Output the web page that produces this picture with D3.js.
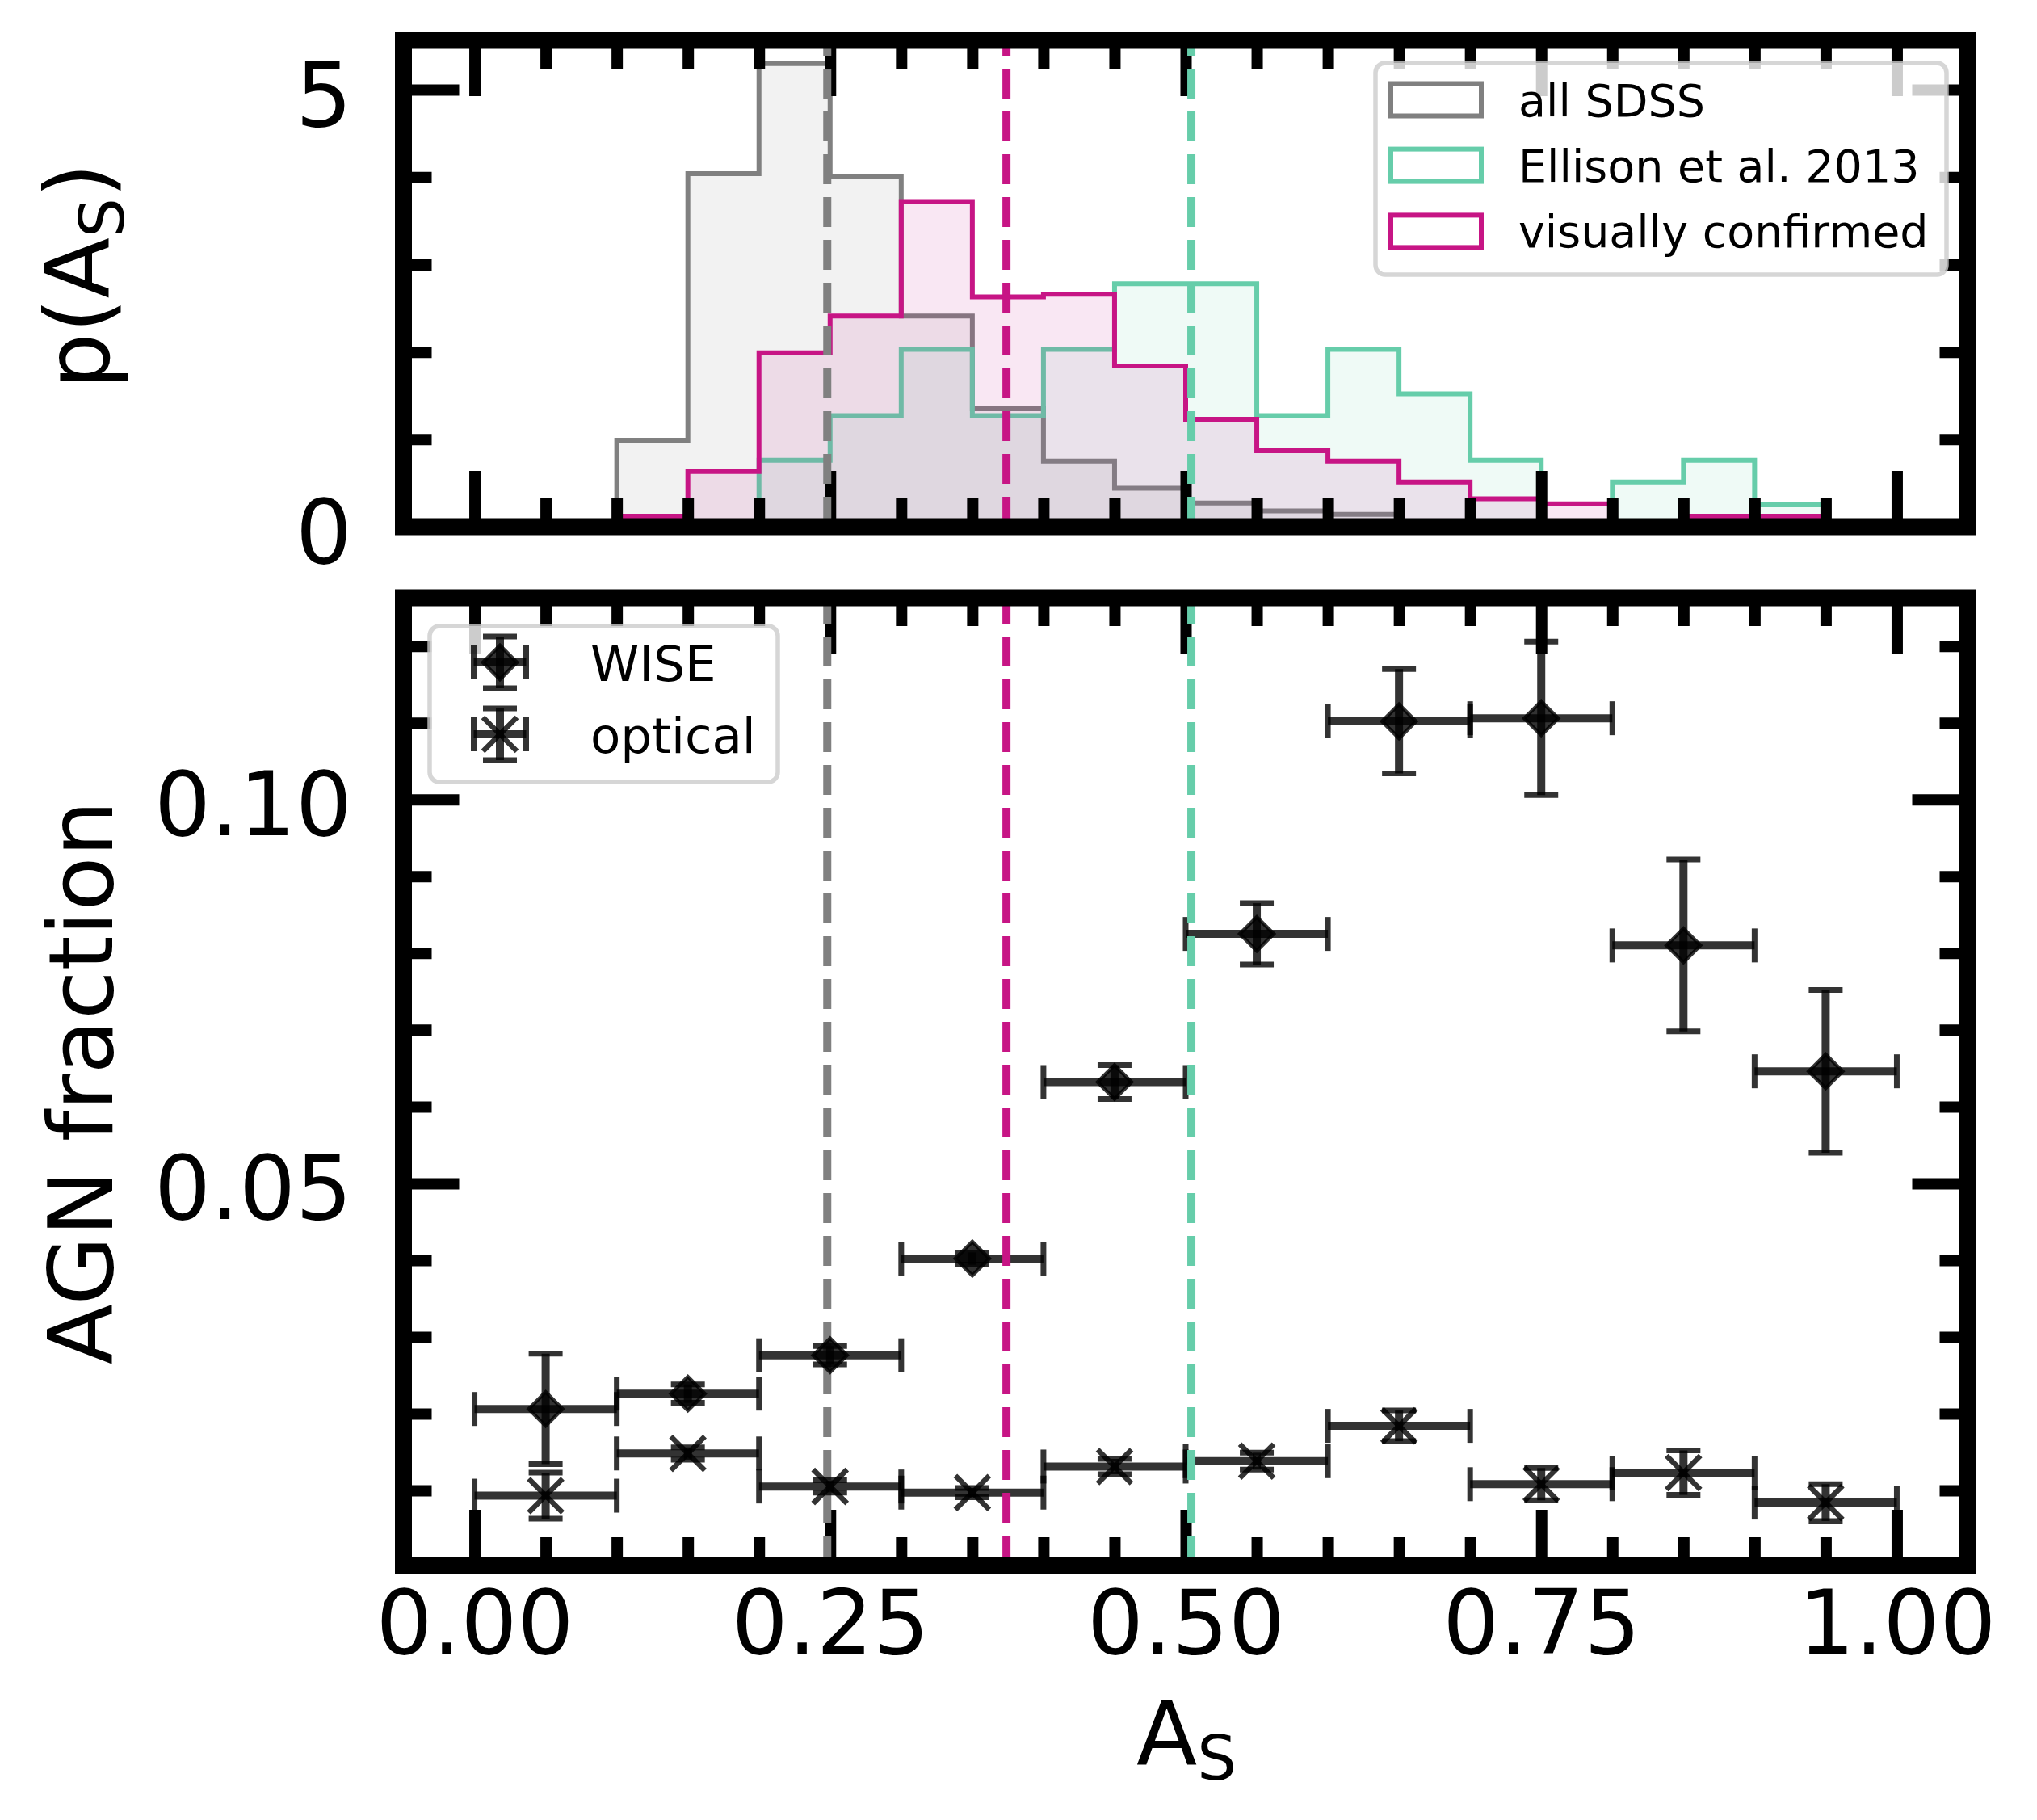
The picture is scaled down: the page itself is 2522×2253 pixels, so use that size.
<!DOCTYPE html>
<html>
<head>
<meta charset="utf-8">
<script src="https://cdn.jsdelivr.net/npm/d3@7"></script>
<style>
  html, body { margin: 0; padding: 0; background: #ffffff; }
  svg { display: block; }
</style>
</head>
<body>
<svg id="chart" width="2522" height="2253"></svg>
<script>
// ---------------- DATA ----------------
const binEdges = [0.00, 0.05, 0.10, 0.15, 0.20, 0.25, 0.30, 0.35, 0.40, 0.45, 0.50,
                  0.55, 0.60, 0.65, 0.70, 0.75, 0.80, 0.85, 0.90, 0.95, 1.00];
const densityAllSDSS = [0, 0, 0.99, 4.04, 5.30, 4.01, 2.41, 1.35, 0.75, 0.44,
                        0.27, 0.18, 0.14, 0.05, 0.03, 0.02, 0.01, 0.01, 0, 0];
const densityEllison = [0, 0, 0, 0, 0.76, 1.27, 2.03, 1.27, 2.03, 2.78,
                        2.78, 1.27, 2.03, 1.52, 0.76, 0, 0.51, 0.76, 0.25, 0];
const densityVisual  = [0, 0, 0.12, 0.63, 1.99, 2.41, 3.72, 2.63, 2.66, 1.84,
                        1.23, 0.87, 0.75, 0.51, 0.32, 0.26, 0, 0.12, 0.12, 0];
const medianAllSDSS = 0.248;
const medianVisual  = 0.374;
const medianEllison = 0.504;
const histLabels = ["all SDSS", "Ellison et al. 2013", "visually confirmed"];

const agnBinCenters    = [0.05, 0.15, 0.25, 0.35, 0.45, 0.55, 0.65, 0.75, 0.85, 0.95];
const agnBinHalfWidths = [0.05, 0.05, 0.05, 0.05, 0.05, 0.05, 0.05, 0.05, 0.05, 0.05];
const wiseFraction   = [0.0206, 0.0226, 0.0276, 0.0402, 0.0632, 0.0825, 0.1102, 0.1106, 0.0810, 0.0646];
const wiseError      = [0.0072, 0.0012, 0.0012, 0.0008, 0.0022, 0.0040, 0.0068, 0.0100, 0.0112, 0.0106];
const opticalFraction = [0.0093, 0.0148, 0.0105, 0.0097, 0.0131, 0.0138, 0.0184, 0.0108, 0.0123, 0.0084];
const opticalError    = [0.0030, 0.0008, 0.0008, 0.0006, 0.0010, 0.0011, 0.0020, 0.0021, 0.0029, 0.0024];
const agnLabels = ["WISE", "optical"];

const xMajorTicks  = [0, 0.25, 0.5, 0.75, 1.0];
const xMajorLabels = ["0.00", "0.25", "0.50", "0.75", "1.00"];
const xMinorTicks  = [0.05, 0.10, 0.15, 0.20, 0.30, 0.35, 0.40, 0.45, 0.55, 0.60, 0.65, 0.70, 0.80, 0.85, 0.90, 0.95];
const histYMajorTicks  = [0, 5];
const histYMajorLabels = ["0", "5"];
const histYMinorTicks  = [1, 2, 3, 4];
const agnYMajorTicks  = [0.05, 0.10];
const agnYMajorLabels = ["0.05", "0.10"];
const agnYMinorTicks  = [0.01, 0.02, 0.03, 0.04, 0.06, 0.07, 0.08, 0.09, 0.11, 0.12];

// ---------------- LAYOUT / STYLE ----------------
const FONT = "'DejaVu Sans', 'Liberation Sans', sans-serif";
const colAll = "#808080", colEll = "#66CDAA", colVis = "#C71585";
const L = 499.5, R = 2436.5;
const top1 = 50, bot1 = 652;
const top2 = 740, bot2 = 1938;

const svg = d3.select("#chart");
svg.append("rect").attr("width", 2522).attr("height", 2253).attr("fill", "#fff");

const x  = d3.scaleLinear().domain([-0.05, 1.05]).range([L, R]);
const y1 = d3.scaleLinear().domain([0, 5.565]).range([bot1, top1]);
const y2 = d3.scaleLinear().domain([0.0002, 0.1263]).range([bot2, top2]);

function styleAxis(sel) {
  sel.select(".domain").remove();
  sel.attr("font-family", FONT).attr("font-size", 110);
  sel.selectAll(".tick line").attr("stroke", "#000").attr("stroke-width", 14);
  sel.selectAll(".tick text").attr("fill", "#000");
}

function drawTicks(g, yScale, yTop, yBot, yMaj, yMajLab, yMin, showXLabels) {
  g.append("g").attr("transform", `translate(0,${yBot})`)
    .call(d3.axisBottom(x).tickValues(xMajorTicks).tickSizeInner(-69).tickSizeOuter(0)
      .tickPadding(31).tickFormat((d, i) => showXLabels ? xMajorLabels[i] : ""))
    .call(styleAxis);
  g.append("g").attr("transform", `translate(0,${yBot})`)
    .call(d3.axisBottom(x).tickValues(xMinorTicks).tickSizeInner(-35).tickSizeOuter(0).tickFormat(""))
    .call(styleAxis);
  g.append("g").attr("transform", `translate(0,${yTop})`)
    .call(d3.axisTop(x).tickValues(xMajorTicks).tickSizeInner(-69).tickSizeOuter(0).tickFormat(""))
    .call(styleAxis);
  g.append("g").attr("transform", `translate(0,${yTop})`)
    .call(d3.axisTop(x).tickValues(xMinorTicks).tickSizeInner(-35).tickSizeOuter(0).tickFormat(""))
    .call(styleAxis);
  const la = g.append("g").attr("transform", `translate(${L},0)`)
    .call(d3.axisLeft(yScale).tickValues(yMaj).tickSizeInner(-69).tickSizeOuter(0)
      .tickPadding(63.5).tickFormat((d, i) => yMajLab[i]))
    .call(styleAxis);
  la.selectAll(".tick text").attr("dy", "0.40em");
  g.append("g").attr("transform", `translate(${L},0)`)
    .call(d3.axisLeft(yScale).tickValues(yMin).tickSizeInner(-35).tickSizeOuter(0).tickFormat(""))
    .call(styleAxis);
  g.append("g").attr("transform", `translate(${R},0)`)
    .call(d3.axisRight(yScale).tickValues(yMaj).tickSizeInner(-69).tickSizeOuter(0).tickFormat(""))
    .call(styleAxis);
  g.append("g").attr("transform", `translate(${R},0)`)
    .call(d3.axisRight(yScale).tickValues(yMin).tickSizeInner(-35).tickSizeOuter(0).tickFormat(""))
    .call(styleAxis);
}

function vline(g, xv, yTop, yBot, color) {
  g.append("line")
    .attr("x1", x(xv)).attr("x2", x(xv))
    .attr("y1", yBot).attr("y2", yTop)
    .attr("stroke", color).attr("stroke-width", 10)
    .attr("stroke-dasharray", "37,16");
}

// ---------------- TOP PANEL: histograms ----------------
const gTop = svg.append("g");
function stepPoints(vals) {
  const pts = [[binEdges[0], 0]];
  vals.forEach((v, i) => { pts.push([binEdges[i], v]); pts.push([binEdges[i + 1], v]); });
  pts.push([binEdges[binEdges.length - 1], 0]);
  return pts;
}
const histLine = d3.line().x(d => x(d[0])).y(d => y1(d[1]));
const histSeries = [
  { vals: densityAllSDSS, color: colAll },
  { vals: densityEllison, color: colEll },
  { vals: densityVisual,  color: colVis }
];
histSeries.forEach(s => {
  const p = histLine(stepPoints(s.vals));
  gTop.append("path").attr("d", p + "Z").attr("fill", s.color).attr("fill-opacity", 0.1).attr("stroke", "none");
  gTop.append("path").attr("d", p).attr("fill", "none").attr("stroke", s.color)
    .attr("stroke-width", 6).attr("stroke-linejoin", "miter");
});
drawTicks(gTop, y1, top1, bot1, histYMajorTicks, histYMajorLabels, histYMinorTicks, false);
vline(gTop, medianAllSDSS, top1, bot1, colAll);
vline(gTop, medianVisual, top1, bot1, colVis);
vline(gTop, medianEllison, top1, bot1, colEll);

// legend (top)
const lg1 = gTop.append("g");
lg1.append("rect").attr("x", 1703).attr("y", 78).attr("width", 707).attr("height", 262)
  .attr("rx", 12).attr("fill", "#fff").attr("fill-opacity", 0.8)
  .attr("stroke", "#cccccc").attr("stroke-opacity", 0.8).attr("stroke-width", 5.5);
const legRows1 = [123.5, 204.6, 286.4];
histSeries.forEach((s, i) => {
  lg1.append("rect").attr("x", 1722).attr("y", legRows1[i] - 20).attr("width", 112).attr("height", 40)
    .attr("fill", "none").attr("stroke", s.color).attr("stroke-width", 6);
  lg1.append("text").attr("x", 1880).attr("y", legRows1[i] + 20)
    .attr("font-family", FONT).attr("font-size", 55.5).attr("fill", "#000").text(histLabels[i]);
});
gTop.append("rect").attr("x", L).attr("y", top1).attr("width", R - L).attr("height", bot1 - top1)
  .attr("fill", "none").attr("stroke", "#000").attr("stroke-width", 21);

// ---------------- BOTTOM PANEL: AGN fraction ----------------
const gBot = svg.append("g");
drawTicks(gBot, y2, top2, bot2, agnYMajorTicks, agnYMajorLabels, agnYMinorTicks, true);
vline(gBot, medianAllSDSS, top2, bot2, colAll);

const diamondSym = d3.symbol().type(d3.symbolSquare).size(882);
const crossType = { draw(ctx, size) { const r = Math.sqrt(size) / 2; ctx.moveTo(-r, -r); ctx.lineTo(r, r); ctx.moveTo(-r, r); ctx.lineTo(r, -r); } };
const crossSym = d3.symbol().type(crossType).size(1764);

function drawMarker(g, cx, cy, kind) {
  if (kind === "D") {
    g.append("path").attr("d", diamondSym()).attr("transform", `translate(${cx},${cy}) rotate(45)`)
      .attr("fill", "#000").attr("fill-opacity", 0.8)
      .attr("stroke", "#000").attr("stroke-opacity", 0.8).attr("stroke-width", 4.5);
  } else {
    g.append("path").attr("d", crossSym()).attr("transform", `translate(${cx},${cy})`)
      .attr("fill", "none").attr("stroke", "#000").attr("stroke-opacity", 0.8).attr("stroke-width", 6.5);
  }
}

function drawErrorbars(g, xs, ys, xe, ye, kind) {
  const data = xs.map((xv, i) => ({ x: xv, y: ys[i], xe: xe[i], ye: ye[i] }));
  const bars = g.append("g").attr("stroke", "#000").attr("stroke-opacity", 0.8);
  bars.selectAll(null).data(data).join("line")
    .attr("x1", d => x(d.x - d.xe)).attr("x2", d => x(d.x + d.xe))
    .attr("y1", d => y2(d.y)).attr("y2", d => y2(d.y)).attr("stroke-width", 10);
  bars.selectAll(null).data(data).join("line")
    .attr("x1", d => x(d.x)).attr("x2", d => x(d.x))
    .attr("y1", d => y2(d.y - d.ye)).attr("y2", d => y2(d.y + d.ye)).attr("stroke-width", 10);
  const caps = g.append("g").attr("stroke", "#000").attr("stroke-opacity", 0.8).attr("stroke-width", 7);
  [-1, 1].forEach(sg => {
    caps.selectAll(null).data(data).join("line")
      .attr("x1", d => x(d.x + sg * d.xe)).attr("x2", d => x(d.x + sg * d.xe))
      .attr("y1", d => y2(d.y) - 21).attr("y2", d => y2(d.y) + 21);
    caps.selectAll(null).data(data).join("line")
      .attr("x1", d => x(d.x) - 21).attr("x2", d => x(d.x) + 21)
      .attr("y1", d => y2(d.y + sg * d.ye)).attr("y2", d => y2(d.y + sg * d.ye));
  });
  data.forEach(d => drawMarker(g, x(d.x), y2(d.y), kind));
}
drawErrorbars(gBot, agnBinCenters, wiseFraction, agnBinHalfWidths, wiseError, "D");
drawErrorbars(gBot, agnBinCenters, opticalFraction, agnBinHalfWidths, opticalError, "x");
vline(gBot, medianVisual, top2, bot2, colVis);
vline(gBot, medianEllison, top2, bot2, colEll);

// legend (bottom)
const lg2 = gBot.append("g");
lg2.append("rect").attr("x", 532).attr("y", 775).attr("width", 431).attr("height", 193)
  .attr("rx", 12).attr("fill", "#fff").attr("fill-opacity", 0.8)
  .attr("stroke", "#cccccc").attr("stroke-opacity", 0.8).attr("stroke-width", 5.5);
const legRows2 = [820, 909];
["D", "x"].forEach((kind, i) => {
  const cy = legRows2[i], cx = 619;
  const hg = lg2.append("g").attr("stroke", "#000").attr("stroke-opacity", 0.8);
  hg.append("line").attr("x1", cx - 32.5).attr("x2", cx + 32.5).attr("y1", cy).attr("y2", cy).attr("stroke-width", 10);
  hg.append("line").attr("x1", cx).attr("x2", cx).attr("y1", cy - 32).attr("y2", cy + 32).attr("stroke-width", 10);
  [-1, 1].forEach(sg => {
    hg.append("line").attr("x1", cx + sg * 32.5).attr("x2", cx + sg * 32.5).attr("y1", cy - 21).attr("y2", cy + 21).attr("stroke-width", 7);
    hg.append("line").attr("x1", cx - 21).attr("x2", cx + 21).attr("y1", cy + sg * 32).attr("y2", cy + sg * 32).attr("stroke-width", 7);
  });
  drawMarker(lg2, cx, cy, kind);
  lg2.append("text").attr("x", 731).attr("y", cy + 23)
    .attr("font-family", FONT).attr("font-size", 61).attr("fill", "#000").text(agnLabels[i]);
});
gBot.append("rect").attr("x", L).attr("y", top2).attr("width", R - L).attr("height", bot2 - top2)
  .attr("fill", "none").attr("stroke", "#000").attr("stroke-width", 21);

// ---------------- AXIS LABELS ----------------
const xl = svg.append("text").attr("x", 1469).attr("y", 2185).attr("text-anchor", "middle")
  .attr("font-family", FONT).attr("font-size", 110).attr("fill", "#000");
xl.append("tspan").text("A");
xl.append("tspan").attr("font-size", 77).attr("dy", 18).text("S");

const yl1 = svg.append("text").attr("transform", "translate(135,342) rotate(-90)").attr("text-anchor", "middle")
  .attr("font-family", FONT).attr("font-size", 110).attr("fill", "#000");
yl1.append("tspan").text("p(A");
yl1.append("tspan").attr("font-size", 77).attr("dy", 18).text("S");
yl1.append("tspan").attr("font-size", 110).attr("dy", -18).text(")");

svg.append("text").attr("transform", "translate(139,1340) rotate(-90)").attr("text-anchor", "middle")
  .attr("font-family", FONT).attr("font-size", 110).attr("fill", "#000").text("AGN fraction");
</script>
</body>
</html>
